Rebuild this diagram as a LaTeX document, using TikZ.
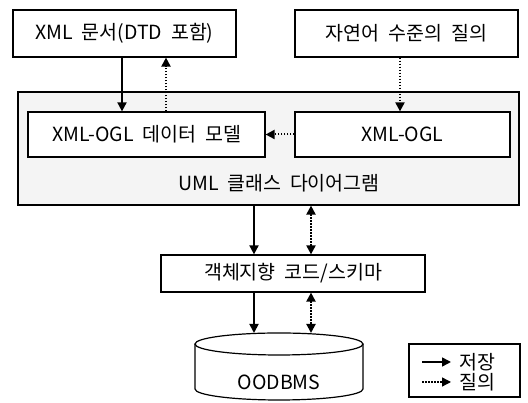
\documentclass[tikz,border=0pt]{standalone}
\usepackage{fontspec}
\setmainfont{Noto Sans CJK KR}
\usetikzlibrary{arrows.meta}
\newcommand{\diafont}{\fontsize{19.5}{22}\selectfont\spaceskip=0.45em\relax}
\begin{document}
\begin{tikzpicture}[x=1pt,y=1pt,
  every node/.style={font=\diafont},
  box/.style={draw, line width=1.2pt, fill=white, inner sep=0pt},
  sol/.style={line width=1.8pt, -{Triangle[length=9pt,width=9pt]}},
  dot/.style={line width=2pt, dash pattern=on 1.8pt off 1.2pt, -{Triangle[length=9pt,width=9pt]}},
  dotb/.style={line width=2pt, dash pattern=on 1.8pt off 1.2pt, {Triangle[length=9pt,width=9pt]}-{Triangle[length=9pt,width=9pt]}}]
\useasboundingbox (0,0) rectangle (528,403);
% top boxes
\node[box, minimum width=223pt, minimum height=47pt] (xml) at (124.5,369.5) {XML 문서(DTD 포함)};
\node[box, minimum width=223pt, minimum height=47pt] (nl) at (406.5,369.5) {자연어 수준의 질의};
% big box
\node[draw, line width=1.2pt, fill=gray!9, minimum width=501pt, minimum height=113pt, inner sep=0pt] (uml) at (268.5,254.5) {};
\node (umllabel) at (279,220) {UML 클래스 다이어그램};
\node[box, minimum width=237pt, minimum height=45pt] (dm) at (146.5,268.5) {XML-OGL 데이터 모델};
\node[box, minimum width=215pt, minimum height=45pt] (ogl) at (402.5,268.5) {XML-OGL};
% code box
\node[box, minimum width=264pt, minimum height=37pt] (code) at (293,129.5) {객체지향 코드/스키마};
% cylinder
\node[minimum width=168pt, minimum height=67pt, inner sep=0pt] (db) at (279,36.5) {};
\draw[line width=1.2pt, fill=white] (195,59) -- (195,14) arc[start angle=180, end angle=360, x radius=84, y radius=11] -- (363,59);
\draw[line width=1.2pt, fill=white] (279,59) ellipse[x radius=84, y radius=11];
\node (dblabel) at (279,21) {OODBMS};
% coordinates for arrows
\coordinate (xa) at (122,0);
\coordinate (xb) at (166,0);
\coordinate (xc) at (400,0);
\coordinate (xd) at (254,0);
\coordinate (xe) at (311,0);
\coordinate (dbd) at (254,70);
\coordinate (dbe) at (311,70);
% arrows
\draw[sol] (xml.south -| xa) -- (dm.north -| xa);
\draw[dot] (dm.north -| xb) -- (xml.south -| xb);
\draw[dot] (nl.south -| xc) -- (ogl.north -| xc);
\draw[dot] (ogl.west) -- (dm.east);
\draw[sol] (uml.south -| xd) -- (code.north -| xd);
\draw[dotb] (uml.south -| xe) -- (code.north -| xe);
\draw[sol] (code.south -| xd) -- (dbd);
\draw[dotb] (code.south -| xe) -- (dbe);
% legend
\node[draw, line width=1.2pt, minimum width=111pt, minimum height=53pt, inner sep=0pt] (leg) at (464.5,32.5) {};
\coordinate (l1a) at (422,41);
\coordinate (l1b) at (451,41);
\coordinate (l2a) at (422,21);
\coordinate (l2b) at (451,21);
\draw[sol, line width=1.5pt] (l1a) -- (l1b);
\draw[dot, line width=1.4pt] (l2a) -- (l2b);
\node[anchor=west, inner sep=0pt] (lt1) at (459,41) {저장};
\node[anchor=west, inner sep=0pt] (lt2) at (459,21) {질의};
\end{tikzpicture}
\end{document}
